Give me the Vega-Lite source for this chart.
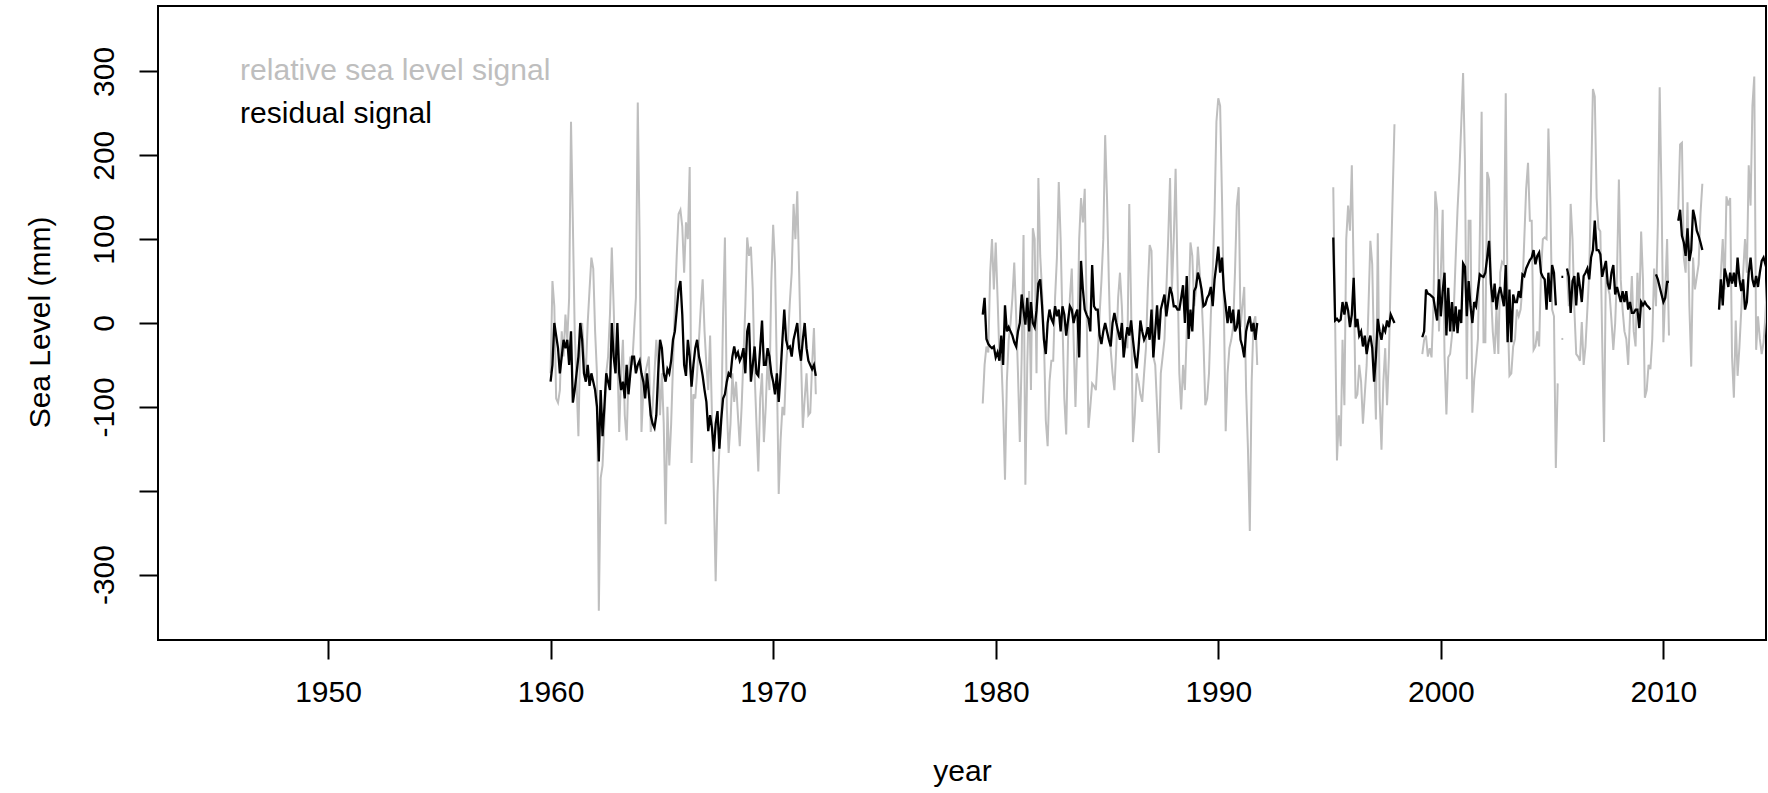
{
"$schema":"https://vega.github.io/schema/vega-lite/v6.json",
"autosize":"none","width":1608,"height":634,
"padding":{"left":158,"top":6,"right":2,"bottom":153},
"background":"white",
"config":{"view":{"stroke":"black","strokeWidth":2},"font":"Liberation Sans"},
"data":{"values":[
{"t":1960,"g":-60,"b":-70,"s":1,"r":1},{"t":1960.083,"g":50,"b":-50,"s":1,"r":1},{"t":1960.167,"g":20,"b":0,"s":1,"r":1},{"t":1960.25,"g":-90,"b":-15,"s":1,"r":1},{"t":1960.333,"g":-95,"b":-30,"s":1,"r":1},{"t":1960.417,"g":-80,"b":-60,"s":1,"r":1},{"t":1960.5,"g":-10,"b":-40,"s":1,"r":1},{"t":1960.583,"g":-40,"b":-20,"s":1,"r":1},{"t":1960.667,"g":10,"b":-30,"s":1,"r":1},{"t":1960.75,"g":-20,"b":-20,"s":1,"r":1},{"t":1960.833,"g":30,"b":-50,"s":1,"r":1},{"t":1960.917,"g":240,"b":-10,"s":1,"r":1},
{"t":1961,"g":120,"b":-95,"s":1,"r":1},{"t":1961.083,"g":-10,"b":-80,"s":1,"r":1},{"t":1961.167,"g":-70,"b":-60,"s":1,"r":1},{"t":1961.25,"g":-135,"b":-40,"s":1,"r":1},{"t":1961.333,"g":-20,"b":0,"s":1,"r":1},{"t":1961.417,"g":0,"b":-20,"s":1,"r":1},{"t":1961.5,"g":-40,"b":-60,"s":1,"r":1},{"t":1961.583,"g":-60,"b":-70,"s":1,"r":1},{"t":1961.667,"g":0,"b":-50,"s":1,"r":1},{"t":1961.75,"g":40,"b":-75,"s":1,"r":1},{"t":1961.833,"g":78,"b":-60,"s":1,"r":1},{"t":1961.917,"g":65,"b":-70,"s":1,"r":1},
{"t":1962,"g":-10,"b":-80,"s":1,"r":1},{"t":1962.083,"g":-60,"b":-100,"s":1,"r":1},{"t":1962.167,"g":-343,"b":-165,"s":1,"r":1},{"t":1962.25,"g":-185,"b":-80,"s":1,"r":1},{"t":1962.333,"g":-170,"b":-135,"s":1,"r":1},{"t":1962.417,"g":-120,"b":-100,"s":1,"r":1},{"t":1962.5,"g":-60,"b":-60,"s":1,"r":1},{"t":1962.583,"g":-40,"b":-70,"s":1,"r":1},{"t":1962.667,"g":10,"b":-80,"s":1,"r":1},{"t":1962.75,"g":90,"b":0,"s":1,"r":1},{"t":1962.833,"g":20,"b":-40,"s":1,"r":1},{"t":1962.917,"g":-60,"b":-60,"s":1,"r":1},
{"t":1963,"g":-40,"b":0,"s":1,"r":1},{"t":1963.083,"g":-130,"b":-60,"s":1,"r":1},{"t":1963.167,"g":-60,"b":-80,"s":1,"r":1},{"t":1963.25,"g":-20,"b":-70,"s":1,"r":1},{"t":1963.333,"g":-110,"b":-90,"s":1,"r":1},{"t":1963.417,"g":-140,"b":-50,"s":1,"r":1},{"t":1963.5,"g":-60,"b":-85,"s":1,"r":1},{"t":1963.583,"g":-40,"b":-60,"s":1,"r":1},{"t":1963.667,"g":-50,"b":-40,"s":1,"r":1},{"t":1963.75,"g":-10,"b":-40,"s":1,"r":1},{"t":1963.833,"g":30,"b":-60,"s":1,"r":1},{"t":1963.917,"g":263,"b":-50,"s":1,"r":1},
{"t":1964,"g":100,"b":-45,"s":1,"r":1},{"t":1964.083,"g":-130,"b":-60,"s":1,"r":1},{"t":1964.167,"g":-80,"b":-70,"s":1,"r":1},{"t":1964.25,"g":-60,"b":-90,"s":1,"r":1},{"t":1964.333,"g":-50,"b":-60,"s":1,"r":1},{"t":1964.417,"g":-40,"b":-85,"s":1,"r":1},{"t":1964.5,"g":-130,"b":-110,"s":1,"r":1},{"t":1964.583,"g":-100,"b":-120,"s":1,"r":1},{"t":1964.667,"g":-60,"b":-125,"s":1,"r":1},{"t":1964.75,"g":-20,"b":-110,"s":1,"r":1},{"t":1964.833,"g":-50,"b":-60,"s":1,"r":1},{"t":1964.917,"g":-110,"b":-20,"s":1,"r":1},
{"t":1965,"g":-60,"b":-30,"s":1,"r":1},{"t":1965.083,"g":-120,"b":-60,"s":1,"r":1},{"t":1965.167,"g":-240,"b":-70,"s":1,"r":1},{"t":1965.25,"g":-100,"b":-55,"s":1,"r":1},{"t":1965.333,"g":-170,"b":-60,"s":1,"r":1},{"t":1965.417,"g":-120,"b":-45,"s":1,"r":1},{"t":1965.5,"g":-50,"b":-20,"s":1,"r":1},{"t":1965.583,"g":20,"b":-10,"s":1,"r":1},{"t":1965.667,"g":80,"b":15,"s":1,"r":1},{"t":1965.75,"g":130,"b":40,"s":1,"r":1},{"t":1965.833,"g":135,"b":50,"s":1,"r":1},{"t":1965.917,"g":115,"b":10,"s":1,"r":1},
{"t":1966,"g":60,"b":-50,"s":1,"r":1},{"t":1966.083,"g":120,"b":-63,"s":1,"r":1},{"t":1966.167,"g":100,"b":-20,"s":1,"r":1},{"t":1966.25,"g":186,"b":-40,"s":1,"r":1},{"t":1966.333,"g":-167,"b":-76,"s":1,"r":1},{"t":1966.417,"g":-85,"b":-50,"s":1,"r":1},{"t":1966.5,"g":-90,"b":-30,"s":1,"r":1},{"t":1966.583,"g":-60,"b":-20,"s":1,"r":1},{"t":1966.667,"g":-20,"b":-40,"s":1,"r":1},{"t":1966.75,"g":20,"b":-50,"s":1,"r":1},{"t":1966.833,"g":52,"b":-63,"s":1,"r":1},{"t":1966.917,"g":-10,"b":-80,"s":1,"r":1},
{"t":1967,"g":-50,"b":-94,"s":1,"r":1},{"t":1967.083,"g":-80,"b":-129,"s":1,"r":1},{"t":1967.167,"g":-15,"b":-110,"s":1,"r":1},{"t":1967.25,"g":-110,"b":-125,"s":1,"r":1},{"t":1967.333,"g":-200,"b":-153,"s":1,"r":1},{"t":1967.417,"g":-308,"b":-120,"s":1,"r":1},{"t":1967.5,"g":-204,"b":-105,"s":1,"r":1},{"t":1967.583,"g":-150,"b":-150,"s":1,"r":1},{"t":1967.667,"g":-120,"b":-115,"s":1,"r":1},{"t":1967.75,"g":10,"b":-90,"s":1,"r":1},{"t":1967.833,"g":102,"b":-85,"s":1,"r":1},{"t":1967.917,"g":-100,"b":-70,"s":1,"r":1},
{"t":1968,"g":-155,"b":-60,"s":1,"r":1},{"t":1968.083,"g":-120,"b":-63,"s":1,"r":1},{"t":1968.167,"g":-60,"b":-40,"s":1,"r":1},{"t":1968.25,"g":-94,"b":-28,"s":1,"r":1},{"t":1968.333,"g":-70,"b":-40,"s":1,"r":1},{"t":1968.417,"g":-110,"b":-35,"s":1,"r":1},{"t":1968.5,"g":-147,"b":-45,"s":1,"r":1},{"t":1968.583,"g":-100,"b":-40,"s":1,"r":1},{"t":1968.667,"g":-40,"b":-30,"s":1,"r":1},{"t":1968.75,"g":20,"b":-60,"s":1,"r":1},{"t":1968.833,"g":102,"b":-10,"s":1,"r":1},{"t":1968.917,"g":80,"b":0,"s":1,"r":1},
{"t":1969,"g":91,"b":-70,"s":1,"r":1},{"t":1969.083,"g":40,"b":-50,"s":1,"r":1},{"t":1969.167,"g":-60,"b":-28,"s":1,"r":1},{"t":1969.25,"g":-120,"b":-60,"s":1,"r":1},{"t":1969.333,"g":-177,"b":-63,"s":1,"r":1},{"t":1969.417,"g":-90,"b":-30,"s":1,"r":1},{"t":1969.5,"g":-60,"b":3,"s":1,"r":1},{"t":1969.583,"g":-142,"b":-50,"s":1,"r":1},{"t":1969.667,"g":-100,"b":-50,"s":1,"r":1},{"t":1969.75,"g":-40,"b":-30,"s":1,"r":1},{"t":1969.833,"g":-80,"b":-40,"s":1,"r":1},{"t":1969.917,"g":50,"b":-60,"s":1,"r":1},
{"t":1970,"g":117,"b":-70,"s":1,"r":1},{"t":1970.083,"g":71,"b":-85,"s":1,"r":1},{"t":1970.167,"g":-60,"b":-60,"s":1,"r":1},{"t":1970.25,"g":-204,"b":-94,"s":1,"r":1},{"t":1970.333,"g":-140,"b":-60,"s":1,"r":1},{"t":1970.417,"g":-100,"b":-20,"s":1,"r":1},{"t":1970.5,"g":-110,"b":16,"s":1,"r":1},{"t":1970.583,"g":-50,"b":-20,"s":1,"r":1},{"t":1970.667,"g":-20,"b":-30,"s":1,"r":1},{"t":1970.75,"g":25,"b":-28,"s":1,"r":1},{"t":1970.833,"g":60,"b":-40,"s":1,"r":1},{"t":1970.917,"g":142,"b":-20,"s":1,"r":1},
{"t":1971,"g":100,"b":-10,"s":1,"r":1},{"t":1971.083,"g":157,"b":0,"s":1,"r":1},{"t":1971.167,"g":60,"b":-30,"s":1,"r":1},{"t":1971.25,"g":-40,"b":-45,"s":1,"r":1},{"t":1971.333,"g":-125,"b":-20,"s":1,"r":1},{"t":1971.417,"g":-90,"b":0,"s":1,"r":1},{"t":1971.5,"g":-60,"b":-30,"s":1,"r":1},{"t":1971.583,"g":-110,"b":-45,"s":1,"r":1},{"t":1971.667,"g":-107,"b":-50,"s":1,"r":1},{"t":1971.75,"g":-50,"b":-55,"s":1,"r":1},{"t":1971.833,"g":-6,"b":-50,"s":1,"r":1},{"t":1971.917,"g":-85,"b":-63,"s":1,"r":1},
{"t":1979.417,"g":-96,"b":10,"s":2,"r":2},{"t":1979.5,"g":-50,"b":30,"s":2,"r":2},{"t":1979.583,"g":-28,"b":-19,"s":2,"r":2},{"t":1979.667,"g":-35,"b":-25,"s":2,"r":2},{"t":1979.75,"g":60,"b":-28,"s":2,"r":2},{"t":1979.833,"g":100,"b":-30,"s":2,"r":2},{"t":1979.917,"g":40,"b":-28,"s":2,"r":2},
{"t":1980,"g":96,"b":-41,"s":2,"r":2},{"t":1980.083,"g":30,"b":-35,"s":2,"r":2},{"t":1980.167,"g":-40,"b":-45,"s":2,"r":2},{"t":1980.25,"g":-40,"b":-15,"s":2,"r":2},{"t":1980.333,"g":-100,"b":-50,"s":2,"r":2},{"t":1980.417,"g":-187,"b":21,"s":2,"r":2},{"t":1980.5,"g":-70,"b":-10,"s":2,"r":2},{"t":1980.583,"g":-20,"b":-5,"s":2,"r":2},{"t":1980.667,"g":0,"b":-10,"s":2,"r":2},{"t":1980.75,"g":30,"b":-15,"s":2,"r":2},{"t":1980.833,"g":72,"b":-23,"s":2,"r":2},{"t":1980.917,"g":10,"b":-28,"s":2,"r":2},
{"t":1981,"g":-60,"b":-10,"s":2,"r":2},{"t":1981.083,"g":-142,"b":0,"s":2,"r":2},{"t":1981.167,"g":-40,"b":34,"s":2,"r":2},{"t":1981.25,"g":105,"b":15,"s":2,"r":2},{"t":1981.333,"g":-193,"b":-2,"s":2,"r":2},{"t":1981.417,"g":-50,"b":30,"s":2,"r":2},{"t":1981.5,"g":38,"b":-10,"s":2,"r":2},{"t":1981.583,"g":-80,"b":25,"s":2,"r":2},{"t":1981.667,"g":113,"b":0,"s":2,"r":2},{"t":1981.75,"g":100,"b":-5,"s":2,"r":2},{"t":1981.833,"g":-60,"b":15,"s":2,"r":2},{"t":1981.917,"g":173,"b":47,"s":2,"r":2},
{"t":1982,"g":80,"b":52,"s":2,"r":2},{"t":1982.083,"g":38,"b":20,"s":2,"r":2},{"t":1982.167,"g":-20,"b":-20,"s":2,"r":2},{"t":1982.25,"g":-116,"b":-37,"s":2,"r":2},{"t":1982.333,"g":-147,"b":0,"s":2,"r":2},{"t":1982.417,"g":-70,"b":16,"s":2,"r":2},{"t":1982.5,"g":-45,"b":5,"s":2,"r":2},{"t":1982.583,"g":-45,"b":0,"s":2,"r":2},{"t":1982.667,"g":30,"b":20,"s":2,"r":2},{"t":1982.75,"g":78,"b":8,"s":2,"r":2},{"t":1982.833,"g":168,"b":16,"s":2,"r":2},{"t":1982.917,"g":100,"b":-10,"s":2,"r":2},
{"t":1983,"g":0,"b":20,"s":2,"r":2},{"t":1983.083,"g":-90,"b":10,"s":2,"r":2},{"t":1983.167,"g":-133,"b":-15,"s":2,"r":2},{"t":1983.25,"g":-20,"b":3,"s":2,"r":2},{"t":1983.333,"g":30,"b":20,"s":2,"r":2},{"t":1983.417,"g":65,"b":16,"s":2,"r":2},{"t":1983.5,"g":-20,"b":0,"s":2,"r":2},{"t":1983.583,"g":-100,"b":10,"s":2,"r":2},{"t":1983.667,"g":-20,"b":16,"s":2,"r":2},{"t":1983.75,"g":100,"b":-41,"s":2,"r":2},{"t":1983.833,"g":149,"b":74,"s":2,"r":2},{"t":1983.917,"g":120,"b":40,"s":2,"r":2},
{"t":1984,"g":160,"b":16,"s":2,"r":2},{"t":1984.083,"g":16,"b":10,"s":2,"r":2},{"t":1984.167,"g":-125,"b":5,"s":2,"r":2},{"t":1984.25,"g":-100,"b":-10,"s":2,"r":2},{"t":1984.333,"g":-72,"b":69,"s":2,"r":2},{"t":1984.417,"g":-75,"b":20,"s":2,"r":2},{"t":1984.5,"g":-80,"b":16,"s":2,"r":2},{"t":1984.583,"g":-40,"b":16,"s":2,"r":2},{"t":1984.667,"g":10,"b":-15,"s":2,"r":2},{"t":1984.75,"g":50,"b":-25,"s":2,"r":2},{"t":1984.833,"g":100,"b":-10,"s":2,"r":2},{"t":1984.917,"g":224,"b":0,"s":2,"r":2},
{"t":1985,"g":150,"b":-10,"s":2,"r":2},{"t":1985.083,"g":50,"b":-20,"s":2,"r":2},{"t":1985.167,"g":-32,"b":-28,"s":2,"r":2},{"t":1985.25,"g":-60,"b":0,"s":2,"r":2},{"t":1985.333,"g":-80,"b":12,"s":2,"r":2},{"t":1985.417,"g":-30,"b":0,"s":2,"r":2},{"t":1985.5,"g":30,"b":-10,"s":2,"r":2},{"t":1985.583,"g":60,"b":-20,"s":2,"r":2},{"t":1985.667,"g":20,"b":0,"s":2,"r":2},{"t":1985.75,"g":-41,"b":-41,"s":2,"r":2},{"t":1985.833,"g":-20,"b":-20,"s":2,"r":2},{"t":1985.917,"g":-30,"b":-5,"s":2,"r":2},
{"t":1986,"g":142,"b":-15,"s":2,"r":2},{"t":1986.083,"g":20,"b":3,"s":2,"r":2},{"t":1986.167,"g":-142,"b":-20,"s":2,"r":2},{"t":1986.25,"g":-110,"b":-40,"s":2,"r":2},{"t":1986.333,"g":-60,"b":-54,"s":2,"r":2},{"t":1986.417,"g":-70,"b":-30,"s":2,"r":2},{"t":1986.5,"g":-85,"b":3,"s":2,"r":2},{"t":1986.583,"g":-94,"b":-10,"s":2,"r":2},{"t":1986.667,"g":-60,"b":-20,"s":2,"r":2},{"t":1986.75,"g":-30,"b":-15,"s":2,"r":2},{"t":1986.833,"g":40,"b":-5,"s":2,"r":2},{"t":1986.917,"g":93,"b":-20,"s":2,"r":2},
{"t":1987,"g":86,"b":16,"s":2,"r":2},{"t":1987.083,"g":-40,"b":-41,"s":2,"r":2},{"t":1987.167,"g":-50,"b":-10,"s":2,"r":2},{"t":1987.25,"g":-100,"b":21,"s":2,"r":2},{"t":1987.333,"g":-155,"b":-20,"s":2,"r":2},{"t":1987.417,"g":-60,"b":16,"s":2,"r":2},{"t":1987.5,"g":-40,"b":25,"s":2,"r":2},{"t":1987.583,"g":-20,"b":34,"s":2,"r":2},{"t":1987.667,"g":40,"b":8,"s":2,"r":2},{"t":1987.75,"g":100,"b":25,"s":2,"r":2},{"t":1987.833,"g":173,"b":43,"s":2,"r":2},{"t":1987.917,"g":40,"b":35,"s":2,"r":2},
{"t":1988,"g":100,"b":20,"s":2,"r":2},{"t":1988.083,"g":184,"b":20,"s":2,"r":2},{"t":1988.167,"g":60,"b":16,"s":2,"r":2},{"t":1988.25,"g":-60,"b":16,"s":2,"r":2},{"t":1988.333,"g":-103,"b":30,"s":2,"r":2},{"t":1988.417,"g":-50,"b":45,"s":2,"r":2},{"t":1988.5,"g":-80,"b":0,"s":2,"r":2},{"t":1988.583,"g":-10,"b":56,"s":2,"r":2},{"t":1988.667,"g":20,"b":-19,"s":2,"r":2},{"t":1988.75,"g":96,"b":16,"s":2,"r":2},{"t":1988.833,"g":80,"b":-10,"s":2,"r":2},{"t":1988.917,"g":20,"b":38,"s":2,"r":2},
{"t":1989,"g":40,"b":43,"s":2,"r":2},{"t":1989.083,"g":91,"b":60,"s":2,"r":2},{"t":1989.167,"g":60,"b":52,"s":2,"r":2},{"t":1989.25,"g":30,"b":40,"s":2,"r":2},{"t":1989.333,"g":-20,"b":20,"s":2,"r":2},{"t":1989.417,"g":-98,"b":22,"s":2,"r":2},{"t":1989.5,"g":-90,"b":30,"s":2,"r":2},{"t":1989.583,"g":-60,"b":34,"s":2,"r":2},{"t":1989.667,"g":10,"b":43,"s":2,"r":2},{"t":1989.75,"g":60,"b":20,"s":2,"r":2},{"t":1989.833,"g":130,"b":52,"s":2,"r":2},{"t":1989.917,"g":240,"b":70,"s":2,"r":2},
{"t":1990,"g":268,"b":91,"s":2,"r":2},{"t":1990.083,"g":259,"b":60,"s":2,"r":2},{"t":1990.167,"g":150,"b":78,"s":2,"r":2},{"t":1990.25,"g":20,"b":40,"s":2,"r":2},{"t":1990.333,"g":-129,"b":20,"s":2,"r":2},{"t":1990.417,"g":-60,"b":0,"s":2,"r":2},{"t":1990.5,"g":-30,"b":20,"s":2,"r":2},{"t":1990.583,"g":-20,"b":0,"s":2,"r":2},{"t":1990.667,"g":-5,"b":16,"s":2,"r":2},{"t":1990.75,"g":60,"b":-10,"s":2,"r":2},{"t":1990.833,"g":140,"b":-5,"s":2,"r":2},{"t":1990.917,"g":162,"b":16,"s":2,"r":2},
{"t":1991,"g":-5,"b":-20,"s":2,"r":2},{"t":1991.083,"g":20,"b":-28,"s":2,"r":2},{"t":1991.167,"g":43,"b":-41,"s":2,"r":2},{"t":1991.25,"g":-80,"b":-10,"s":2,"r":2},{"t":1991.333,"g":-150,"b":0,"s":2,"r":2},{"t":1991.417,"g":-248,"b":8,"s":2,"r":2},{"t":1991.5,"g":-70,"b":-10,"s":2,"r":2},{"t":1991.583,"g":0,"b":0,"s":2,"r":2},{"t":1991.667,"g":8,"b":-20,"s":2,"r":2},{"t":1991.75,"g":-50,"b":0,"s":2,"r":2},
{"t":1995.167,"g":162,"b":102,"s":3,"r":3},{"t":1995.25,"g":3,"b":3,"s":3,"r":3},{"t":1995.333,"g":-164,"b":5,"s":3,"r":3},{"t":1995.417,"g":-110,"b":2,"s":3,"r":3},{"t":1995.5,"g":-147,"b":4,"s":3,"r":3},{"t":1995.583,"g":-20,"b":25,"s":3,"r":3},{"t":1995.667,"g":-98,"b":10,"s":3,"r":3},{"t":1995.75,"g":100,"b":25,"s":3,"r":3},{"t":1995.833,"g":140,"b":15,"s":3,"r":3},{"t":1995.917,"g":110,"b":-5,"s":3,"r":3},
{"t":1996,"g":188,"b":10,"s":3,"r":3},{"t":1996.083,"g":60,"b":54,"s":3,"r":3},{"t":1996.167,"g":-90,"b":-5,"s":3,"r":3},{"t":1996.25,"g":-85,"b":5,"s":3,"r":3},{"t":1996.333,"g":-50,"b":-15,"s":3,"r":3},{"t":1996.417,"g":-70,"b":-10,"s":3,"r":3},{"t":1996.5,"g":-120,"b":-28,"s":3,"r":3},{"t":1996.583,"g":-85,"b":-15,"s":3,"r":3},{"t":1996.667,"g":-50,"b":-37,"s":3,"r":3},{"t":1996.75,"g":20,"b":-23,"s":3,"r":3},{"t":1996.833,"g":98,"b":-15,"s":3,"r":3},{"t":1996.917,"g":70,"b":-30,"s":3,"r":3},
{"t":1997,"g":-40,"b":-70,"s":3,"r":3},{"t":1997.083,"g":-115,"b":-40,"s":3,"r":3},{"t":1997.167,"g":107,"b":5,"s":3,"r":3},{"t":1997.25,"g":-90,"b":-10,"s":3,"r":3},{"t":1997.333,"g":-151,"b":-20,"s":3,"r":3},{"t":1997.417,"g":-70,"b":-5,"s":3,"r":3},{"t":1997.5,"g":-30,"b":-10,"s":3,"r":3},{"t":1997.583,"g":-98,"b":3,"s":3,"r":3},{"t":1997.667,"g":-40,"b":-5,"s":3,"r":3},{"t":1997.75,"g":60,"b":10,"s":3,"r":3},{"t":1997.833,"g":150,"b":5,"s":3,"r":3},{"t":1997.917,"g":237,"b":0,"s":3,"r":3},
{"t":1999.167,"g":-37,"b":-17,"s":4,"r":4},{"t":1999.25,"g":-20,"b":-10,"s":4,"r":4},{"t":1999.333,"g":-15,"b":40,"s":4,"r":4},{"t":1999.417,"g":-40,"b":35,"s":4,"r":4},{"t":1999.5,"g":-30,"b":34,"s":4,"r":4},{"t":1999.583,"g":-41,"b":32,"s":4,"r":4},{"t":1999.667,"g":20,"b":30,"s":4,"r":4},{"t":1999.75,"g":157,"b":16,"s":4,"r":4},{"t":1999.833,"g":135,"b":3,"s":4,"r":4},{"t":1999.917,"g":-10,"b":52,"s":4,"r":4},
{"t":2000,"g":60,"b":8,"s":4,"r":4},{"t":2000.083,"g":135,"b":38,"s":4,"r":4},{"t":2000.167,"g":-41,"b":60,"s":4,"r":4},{"t":2000.25,"g":-109,"b":-15,"s":4,"r":4},{"t":2000.333,"g":-41,"b":42,"s":4,"r":4},{"t":2000.417,"g":-37,"b":-10,"s":4,"r":4},{"t":2000.5,"g":-15,"b":25,"s":4,"r":4},{"t":2000.583,"g":16,"b":-10,"s":4,"r":4},{"t":2000.667,"g":78,"b":20,"s":4,"r":4},{"t":2000.75,"g":135,"b":-12,"s":4,"r":4},{"t":2000.833,"g":180,"b":16,"s":4,"r":4},{"t":2000.917,"g":237,"b":0,"s":4,"r":4},
{"t":2001,"g":298,"b":71,"s":4,"r":4},{"t":2001.083,"g":193,"b":67,"s":4,"r":4},{"t":2001.167,"g":-67,"b":8,"s":4,"r":4},{"t":2001.25,"g":122,"b":50,"s":4,"r":4},{"t":2001.333,"g":122,"b":20,"s":4,"r":4},{"t":2001.417,"g":-107,"b":0,"s":4,"r":4},{"t":2001.5,"g":-67,"b":25,"s":4,"r":4},{"t":2001.583,"g":-45,"b":20,"s":4,"r":4},{"t":2001.667,"g":-19,"b":40,"s":4,"r":4},{"t":2001.75,"g":100,"b":58,"s":4,"r":4},{"t":2001.833,"g":252,"b":56,"s":4,"r":4},{"t":2001.917,"g":-23,"b":55,"s":4,"r":4},
{"t":2002,"g":-23,"b":60,"s":4,"r":4},{"t":2002.083,"g":180,"b":78,"s":4,"r":4},{"t":2002.167,"g":171,"b":98,"s":4,"r":4},{"t":2002.25,"g":40,"b":47,"s":4,"r":4},{"t":2002.333,"g":-10,"b":25,"s":4,"r":4},{"t":2002.417,"g":-37,"b":47,"s":4,"r":4},{"t":2002.5,"g":16,"b":16,"s":4,"r":4},{"t":2002.583,"g":-37,"b":34,"s":4,"r":4},{"t":2002.667,"g":60,"b":43,"s":4,"r":4},{"t":2002.75,"g":73,"b":32,"s":4,"r":4},{"t":2002.833,"g":70,"b":20,"s":4,"r":4},{"t":2002.917,"g":274,"b":69,"s":4,"r":4},
{"t":2003,"g":16,"b":-23,"s":4,"r":4},{"t":2003.083,"g":-63,"b":40,"s":4,"r":4},{"t":2003.167,"g":-60,"b":-23,"s":4,"r":4},{"t":2003.25,"g":-28,"b":34,"s":4,"r":4},{"t":2003.333,"g":-19,"b":25,"s":4,"r":4},{"t":2003.417,"g":16,"b":25,"s":4,"r":4},{"t":2003.5,"g":8,"b":38,"s":4,"r":4},{"t":2003.583,"g":16,"b":30,"s":4,"r":4},{"t":2003.667,"g":43,"b":58,"s":4,"r":4},{"t":2003.75,"g":100,"b":56,"s":4,"r":4},{"t":2003.833,"g":160,"b":65,"s":4,"r":4},{"t":2003.917,"g":191,"b":70,"s":4,"r":4},
{"t":2004,"g":122,"b":75,"s":4,"r":4},{"t":2004.083,"g":122,"b":78,"s":4,"r":4},{"t":2004.167,"g":-32,"b":87,"s":4,"r":4},{"t":2004.25,"g":-28,"b":70,"s":4,"r":4},{"t":2004.333,"g":-10,"b":80,"s":4,"r":4},{"t":2004.417,"g":-28,"b":84,"s":4,"r":4},{"t":2004.5,"g":60,"b":60,"s":4,"r":4},{"t":2004.583,"g":100,"b":55,"s":4,"r":4},{"t":2004.667,"g":102,"b":52,"s":4,"r":4},{"t":2004.75,"g":100,"b":16,"s":4,"r":4},{"t":2004.833,"g":232,"b":60,"s":4,"r":4},{"t":2004.917,"g":149,"b":25,"s":4,"r":4},
{"t":2005,"g":16,"b":69,"s":4,"r":4},{"t":2005.083,"g":8,"b":60,"s":4,"r":4},{"t":2005.167,"g":-173,"b":21,"s":4,"r":4},{"t":2005.25,"g":-72,"s":4},
{"t":2005.417,"g":-19,"b":55,"s":5,"r":5},{"t":2005.5,"g":-19,"b":55,"s":5,"r":5},
{"t":2005.667,"g":60,"b":65,"s":6,"r":6},{"t":2005.75,"g":20,"b":55,"s":6,"r":6},{"t":2005.833,"g":142,"b":12,"s":6,"r":6},{"t":2005.917,"g":100,"b":50,"s":6,"r":6},
{"t":2006,"g":16,"b":56,"s":6,"r":6},{"t":2006.083,"g":-37,"b":21,"s":6,"r":6},{"t":2006.167,"g":-40,"b":60,"s":6,"r":6},{"t":2006.25,"g":-45,"b":43,"s":6,"r":6},{"t":2006.333,"g":1,"b":25,"s":6,"r":6},{"t":2006.417,"g":-50,"b":56,"s":6,"r":6},{"t":2006.5,"g":-28,"b":60,"s":6,"r":6},{"t":2006.583,"g":16,"b":65,"s":6,"r":6},{"t":2006.667,"g":60,"b":52,"s":6,"r":6},{"t":2006.75,"g":162,"b":78,"s":6,"r":6},{"t":2006.833,"g":279,"b":87,"s":6,"r":6},{"t":2006.917,"g":270,"b":122,"s":6,"r":6},
{"t":2007,"g":149,"b":87,"s":6,"r":6},{"t":2007.083,"g":113,"b":87,"s":6,"r":6},{"t":2007.167,"g":109,"b":82,"s":6,"r":6},{"t":2007.25,"g":-20,"b":55,"s":6,"r":6},{"t":2007.333,"g":-142,"b":65,"s":6,"r":6},{"t":2007.417,"g":70,"b":74,"s":6,"r":6},{"t":2007.5,"g":43,"b":47,"s":6,"r":6},{"t":2007.583,"g":34,"b":40,"s":6,"r":6},{"t":2007.667,"g":3,"b":60,"s":6,"r":6},{"t":2007.75,"g":-32,"b":69,"s":6,"r":6},{"t":2007.833,"g":0,"b":34,"s":6,"r":6},{"t":2007.917,"g":60,"b":43,"s":6,"r":6},
{"t":2008,"g":171,"b":34,"s":6,"r":6},{"t":2008.083,"g":52,"b":25,"s":6,"r":6},{"t":2008.167,"g":16,"b":38,"s":6,"r":6},{"t":2008.25,"g":-10,"b":25,"s":6,"r":6},{"t":2008.333,"g":-19,"b":38,"s":6,"r":6},{"t":2008.417,"g":-50,"b":16,"s":6,"r":6},{"t":2008.5,"g":8,"b":25,"s":6,"r":6},{"t":2008.583,"g":56,"b":12,"s":6,"r":6},{"t":2008.667,"g":-10,"b":12,"s":6,"r":6},{"t":2008.75,"g":-28,"b":16,"s":6,"r":6},{"t":2008.833,"g":60,"b":16,"s":6,"r":6},{"t":2008.917,"g":16,"b":-6,"s":6,"r":6},
{"t":2009,"g":109,"b":25,"s":6,"r":6},{"t":2009.083,"g":52,"b":21,"s":6,"r":6},{"t":2009.167,"g":-89,"b":25,"s":6,"r":6},{"t":2009.25,"g":-80,"b":21,"s":6,"r":6},{"t":2009.333,"g":-50,"b":19,"s":6,"r":6},{"t":2009.417,"g":-55,"b":16,"s":6,"r":6},{"t":2009.5,"g":-19,"s":6},{"t":2009.583,"g":65,"s":6},{"t":2009.667,"g":20,"b":58,"s":6,"r":7},{"t":2009.75,"g":118,"b":52,"s":6,"r":7},{"t":2009.833,"g":281,"b":43,"s":6,"r":7},{"t":2009.917,"g":150,"b":34,"s":6,"r":7},
{"t":2010,"g":-23,"b":25,"s":6,"r":7},{"t":2010.083,"g":38,"b":30,"s":6,"r":7},{"t":2010.167,"g":100,"b":49,"s":6,"r":7},{"t":2010.25,"g":-15,"b":49,"s":6,"r":7},
{"t":2010.667,"g":135,"b":122,"s":8,"r":8},{"t":2010.75,"g":213,"b":135,"s":8,"r":8},{"t":2010.833,"g":215,"b":104,"s":8,"r":8},{"t":2010.917,"g":78,"b":96,"s":8,"r":8},{"t":2011,"g":60,"b":80,"s":8,"r":8},{"t":2011.083,"g":144,"b":113,"s":8,"r":8},{"t":2011.167,"g":20,"b":74,"s":8,"r":8},{"t":2011.25,"g":-52,"b":87,"s":8,"r":8},{"t":2011.333,"g":78,"b":135,"s":8,"r":8},{"t":2011.417,"g":40,"b":125,"s":8,"r":8},{"t":2011.5,"g":55,"b":110,"s":8,"r":8},{"t":2011.583,"g":70,"b":104,"s":8,"r":8},{"t":2011.667,"g":130,"b":96,"s":8,"r":8},{"t":2011.75,"g":166,"b":87,"s":8,"r":8},
{"t":2012.5,"g":16,"b":16,"s":9,"r":9},{"t":2012.583,"g":60,"b":52,"s":9,"r":9},{"t":2012.667,"g":100,"b":21,"s":9,"r":9},{"t":2012.75,"g":40,"b":65,"s":9,"r":9},{"t":2012.833,"g":151,"b":56,"s":9,"r":9},{"t":2012.917,"g":140,"b":43,"s":9,"r":9},
{"t":2013,"g":149,"b":60,"s":9,"r":9},{"t":2013.083,"g":-40,"b":47,"s":9,"r":9},{"t":2013.167,"g":-89,"b":60,"s":9,"r":9},{"t":2013.25,"g":3,"b":43,"s":9,"r":9},{"t":2013.333,"g":-63,"b":78,"s":9,"r":9},{"t":2013.417,"g":-28,"b":52,"s":9,"r":9},{"t":2013.5,"g":16,"b":38,"s":9,"r":9},{"t":2013.583,"g":60,"b":52,"s":9,"r":9},{"t":2013.667,"g":100,"b":16,"s":9,"r":9},{"t":2013.75,"g":60,"b":25,"s":9,"r":9},{"t":2013.833,"g":188,"b":60,"s":9,"r":9},{"t":2013.917,"g":140,"b":78,"s":9,"r":9},
{"t":2014,"g":259,"b":52,"s":9,"r":9},{"t":2014.083,"g":294,"b":43,"s":9,"r":9},{"t":2014.167,"g":-32,"b":56,"s":9,"r":9},{"t":2014.25,"g":8,"b":43,"s":9,"r":9},{"t":2014.333,"g":-19,"b":60,"s":9,"r":9},{"t":2014.417,"g":-37,"b":74,"s":9,"r":9},{"t":2014.5,"g":-23,"b":78,"s":9,"r":9},{"t":2014.583,"g":8,"b":70,"s":9,"r":9},{"t":2014.667,"g":60,"b":78,"s":9,"r":9}
]},
"layer":[
{"transform":[{"filter":"isValid(datum.g)"}],
 "mark":{"type":"line","color":"#BEBEBE","strokeWidth":2,"clip":true},
 "encoding":{
  "x":{"field":"t","type":"quantitative","scale":{"domain":[1942.36,2014.61],"nice":false,"zero":false},
   "axis":{"title":"year","values":[1950,1960,1970,1980,1990,2000,2010],"format":"d","domain":false,"grid":false,"tickSize":19,"tickWidth":2,"tickColor":"black","labelFontSize":30,"labelColor":"black","labelFont":"Liberation Sans","labelPadding":18,"labelBaseline":"top","labelAlign":"center","labelFlush":false,"labelOverlap":false,"titleFontSize":30,"titleFontWeight":"normal","titleColor":"black","titleFont":"Liberation Sans","titleBaseline":"alphabetic","titleAlign":"center","titleY":140}},
  "y":{"field":"g","type":"quantitative","scale":{"domain":[-378,378],"nice":false,"zero":false},
   "axis":{"title":"Sea Level (mm)","values":[-300,-200,-100,0,100,200,300],"labelExpr":"datum.value == -200 ? '' : '' + datum.value","domain":false,"grid":false,"tickSize":19,"tickWidth":2,"tickColor":"black","labelFontSize":30,"labelColor":"black","labelFont":"Liberation Sans","labelAngle":270,"labelAlign":"center","labelBaseline":"alphabetic","labelPadding":26,"labelFlush":false,"labelOverlap":false,"titleFontSize":30,"titleFontWeight":"normal","titleColor":"black","titleFont":"Liberation Sans","titleAngle":270,"titleAlign":"center","titleBaseline":"alphabetic","titleX":-109,"titleY":316}},
  "detail":{"field":"s","type":"nominal"}}},
{"transform":[{"filter":"isValid(datum.b)"}],
 "mark":{"type":"line","color":"black","strokeWidth":2.3,"clip":true},
 "encoding":{
  "x":{"field":"t","type":"quantitative","title":"year"},
  "y":{"field":"b","type":"quantitative","title":"Sea Level (mm)"},
  "detail":{"field":"r","type":"nominal"}}},
{"data":{"values":[{"label":"relative sea level signal"}]},
 "mark":{"type":"text","align":"left","baseline":"middle","fontSize":30,"font":"Liberation Sans","color":"#BEBEBE"},
 "encoding":{"x":{"datum":1946.05,"type":"quantitative"},"y":{"datum":300,"type":"quantitative"},"text":{"field":"label"}}},
{"data":{"values":[{"label":"residual signal"}]},
 "mark":{"type":"text","align":"left","baseline":"middle","fontSize":30,"font":"Liberation Sans","color":"black"},
 "encoding":{"x":{"datum":1946.05,"type":"quantitative"},"y":{"datum":249,"type":"quantitative"},"text":{"field":"label"}}}
]
}
